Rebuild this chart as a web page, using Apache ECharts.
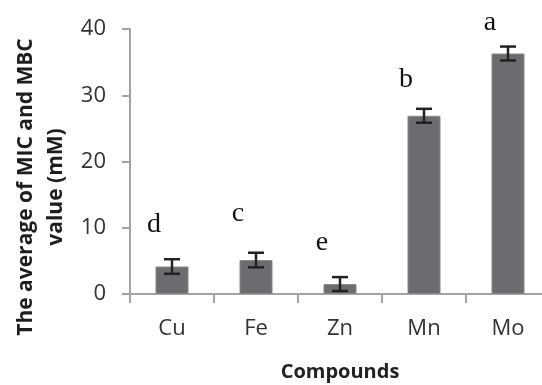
<!DOCTYPE html>
<html><head><meta charset="utf-8">
<script src="https://cdn.jsdelivr.net/npm/echarts@6/dist/echarts.min.js"></script>
<style>html,body{margin:0;padding:0;background:#fff}#c{width:542px;height:385px}</style>
</head><body><div id="c"></div>
<script>
const categories = ['Cu', 'Fe', 'Zn', 'Mn', 'Mo'];
const values = [4.15, 5.13, 1.5, 26.9, 36.3];
const errors = [1.1, 1.1, 1.05, 1.05, 1.05];
const letters = ['d', 'c', 'e', 'b', 'a'];
const letterY = [10.4, 12.2, 7.7, 32.3, 40.9];
const yTicks = [0, 10, 20, 30, 40];

const chart = echarts.init(document.getElementById('c'));
const axisColor = '#a3a3a3';
chart.setOption({
  animation: false,
  grid: { left: 130, top: 29, width: 420, height: 265, outerBoundsMode: 'none', containLabel: false },
  xAxis: {
    type: 'category', data: categories,
    name: 'Compounds', nameLocation: 'middle', nameGap: 68,
    nameTextStyle: { fontFamily: 'Open Sans', fontWeight: 'bold', fontSize: 20, color: '#222' },
    axisLine: { lineStyle: { color: axisColor, width: 2 } },
    axisTick: { show: true, length: 9, lineStyle: { color: axisColor, width: 2 } },
    axisLabel: { fontFamily: 'Open Sans', fontSize: 22, color: '#333', margin: 24 }
  },
  yAxis: {
    type: 'value', min: 0, max: 40, interval: 10,
    axisLine: { show: true, lineStyle: { color: axisColor, width: 2 } },
    axisTick: { show: true, length: 8, lineStyle: { color: axisColor, width: 2 } },
    splitLine: { show: false },
    axisLabel: { fontFamily: 'Open Sans', fontSize: 22, color: '#333', margin: 24,
      formatter: v => yTicks.includes(v) ? String(v) : '' }
  },
  graphic: [{
    type: 'text', rotation: Math.PI / 2,
    style: { text: 'The average of MIC and MBC\nvalue (mM)', fontFamily: 'Open Sans', fontWeight: 'bold',
      fontSize: 21, fill: '#1e1e1e', align: 'center', verticalAlign: 'middle', lineHeight: 30 },
    x: 41, y: 187
  }],
  series: [
    { type: 'bar', data: values, barWidth: 33,
      itemStyle: { color: '#6b6c6f', borderColor: '#8a8a8c', borderWidth: 1 } },
    { type: 'custom', data: values.map((v, i) => [i, v, errors[i], letterY[i]]), z: 5, clip: false,
      renderItem: (params, api) => {
        const i = api.value(0), v = api.value(1), e = api.value(2), ly = api.value(3);
        const hi = api.coord([i, v + e]), lo = api.coord([i, v - e]);
        const lp = api.coord([i, ly]);
        const w = 8;
        const st = { stroke: '#222', lineWidth: 2.5 };
        return { type: 'group', children: [
          { type: 'line', shape: { x1: hi[0], y1: hi[1], x2: lo[0], y2: lo[1] }, style: st },
          { type: 'line', shape: { x1: hi[0] - w, y1: hi[1], x2: hi[0] + w, y2: hi[1] }, style: st },
          { type: 'line', shape: { x1: lo[0] - w, y1: lo[1], x2: lo[0] + w, y2: lo[1] }, style: st },
          { type: 'text', x: lp[0] - 18, y: lp[1],
            style: { text: letters[params.dataIndex], fontFamily: 'Liberation Serif', fontSize: 28,
              fill: '#111', align: 'center', verticalAlign: 'middle' } }
        ]};
      } }
  ]
});
</script></body></html>
